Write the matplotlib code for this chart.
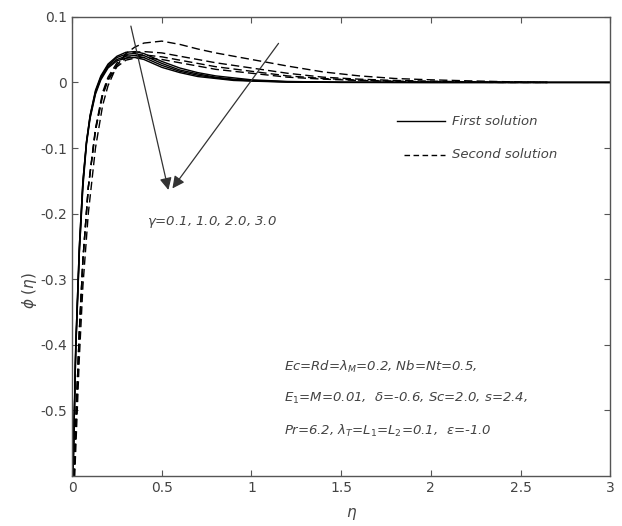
import matplotlib
matplotlib.use('Agg')
import matplotlib.pyplot as plt

# first solutions (solid), gamma = 0.1, 1.0, 2.0, 3.0
eta_first = [0, 0.02, 0.04, 0.06, 0.08, 0.1, 0.13, 0.16, 0.2, 0.25, 0.3, 0.35, 0.4,
             0.5, 0.6, 0.7, 0.8, 0.9, 1.0, 1.2, 1.5, 2.0, 3.0]
phi_first = [
    [-0.66, -0.40, -0.25, -0.15, -0.09, -0.05, -0.012, 0.010, 0.028, 0.040, 0.046, 0.047, 0.044,
     0.032, 0.022, 0.015, 0.010, 0.007, 0.004, 0.0015, 0.0003, 0.0, 0.0],
    [-0.66, -0.40, -0.25, -0.15, -0.09, -0.051, -0.014, 0.008, 0.026, 0.038, 0.043, 0.044, 0.041,
     0.029, 0.019, 0.013, 0.008, 0.005, 0.003, 0.001, 0.0002, 0.0, 0.0],
    [-0.66, -0.41, -0.26, -0.155, -0.092, -0.053, -0.016, 0.006, 0.024, 0.035, 0.040, 0.041, 0.038,
     0.026, 0.017, 0.011, 0.007, 0.004, 0.0025, 0.0008, 0.0001, 0.0, 0.0],
    [-0.66, -0.41, -0.26, -0.16, -0.094, -0.055, -0.018, 0.004, 0.022, 0.033, 0.037, 0.038, 0.035,
     0.023, 0.015, 0.009, 0.006, 0.003, 0.002, 0.0005, 0.0, 0.0, 0.0],
]

# second solutions (dashed)
eta_second = [0, 0.02, 0.04, 0.06, 0.09, 0.13, 0.17, 0.2, 0.25, 0.3, 0.35, 0.4, 0.5, 0.6,
              0.7, 0.8, 1.0, 1.2, 1.4, 1.6, 1.8, 2.0, 2.2, 2.4, 2.65]
phi_second = [
    [-0.7, -0.56, -0.42, -0.31, -0.2, -0.1, -0.035, -0.005, 0.026, 0.044, 0.054, 0.060, 0.063, 0.058,
     0.051, 0.045, 0.035, 0.025, 0.016, 0.010, 0.006, 0.004, 0.0025, 0.0012, 0.0],
    [-0.7, -0.52, -0.38, -0.27, -0.16, -0.07, -0.015, 0.008, 0.030, 0.041, 0.046, 0.047, 0.045, 0.040,
     0.035, 0.030, 0.022, 0.014, 0.008, 0.005, 0.003, 0.002, 0.001, 0.0005, 0.0],
    [-0.7, -0.52, -0.38, -0.27, -0.16, -0.072, -0.018, 0.005, 0.027, 0.037, 0.041, 0.042, 0.039, 0.034,
     0.029, 0.024, 0.017, 0.010, 0.006, 0.0035, 0.002, 0.001, 0.0005, 0.0, 0.0],
    [-0.7, -0.52, -0.38, -0.27, -0.16, -0.074, -0.02, 0.003, 0.024, 0.034, 0.037, 0.038, 0.035, 0.030,
     0.025, 0.020, 0.014, 0.008, 0.005, 0.003, 0.0015, 0.0008, 0.0003, 0.0, 0.0],
]

grey = '#555555'
txt = '#444444'

fig, ax = plt.subplots(figsize=(6.22, 5.26), dpi=100)
fig.subplots_adjust(left=0.116, right=0.981, top=0.968, bottom=0.095)

for phi in phi_first:
    ax.plot(eta_first, phi, color='black', lw=1.0, solid_capstyle='butt')
for phi in phi_second:
    ax.plot(eta_second, phi, color='black', lw=1.0, linestyle=(0, (6, 3)))

# legend drawn by hand like the original
ax.plot([1.81, 2.08], [-0.059, -0.059], color='black', lw=1.0)
ax.text(2.12, -0.059, 'First solution', style='italic', color=txt, fontsize=9.5, va='center')
ax.plot([1.85, 2.08], [-0.11, -0.11], color='black', lw=1.0, linestyle=(0, (4, 2.5)))
ax.text(2.12, -0.11, 'Second solution', style='italic', color=txt, fontsize=9.5, va='center')

# gamma arrows
ax.annotate('', xy=(0.54, -0.168), xytext=(0.324, 0.09),
            arrowprops=dict(arrowstyle='-|>', color='#333333', lw=0.9, mutation_scale=18))
ax.annotate('', xy=(0.55, -0.165), xytext=(1.16, 0.063),
            arrowprops=dict(arrowstyle='-|>', color='#333333', lw=0.9, mutation_scale=18))
ax.text(0.42, -0.212, r'$\gamma$=0.1, 1.0, 2.0, 3.0', style='italic', color=txt, fontsize=9.5,
        va='center')

params = [r'Ec=Rd=$\lambda_{M}$=0.2, Nb=Nt=0.5,',
          r'E$_{1}$=M=0.01,  $\delta$=-0.6, Sc=2.0, s=2.4,',
          r'Pr=6.2, $\lambda_{T}$=L$_{1}$=L$_{2}$=0.1,  $\varepsilon$=-1.0']
for i, line in enumerate(params):
    ax.text(1.18, -0.433 - 0.049 * i, line, style='italic', color=txt, fontsize=9.5, va='center')

ax.set_xlim(0, 3)
ax.set_ylim(-0.6, 0.1)
ax.set_xticks([0, 0.5, 1, 1.5, 2, 2.5, 3])
ax.set_xticklabels(['0', '0.5', '1', '1.5', '2', '2.5', '3'])
ax.set_yticks([-0.5, -0.4, -0.3, -0.2, -0.1, 0, 0.1])
ax.set_yticklabels(['-0.5', '-0.4', '-0.3', '-0.2', '-0.1', '0', '0.1'])
ax.tick_params(direction='in', top=True, right=True, length=4, width=0.8, color=grey,
               labelcolor=txt, labelsize=10)
for s in ax.spines.values():
    s.set_color(grey)
    s.set_linewidth(1.0)

ax.set_xlabel(r'$\eta$', color=txt, fontsize=11)
ax.set_ylabel(r'$\phi$ ($\eta$)', color=txt, fontsize=11)
ax.xaxis.set_label_coords(0.52, -0.065)
ax.yaxis.set_label_coords(-0.062, 0.405)

plt.rcParams['mathtext.fontset'] = 'dejavusans'
plt.savefig('out.png', dpi=100)
plt.close()
